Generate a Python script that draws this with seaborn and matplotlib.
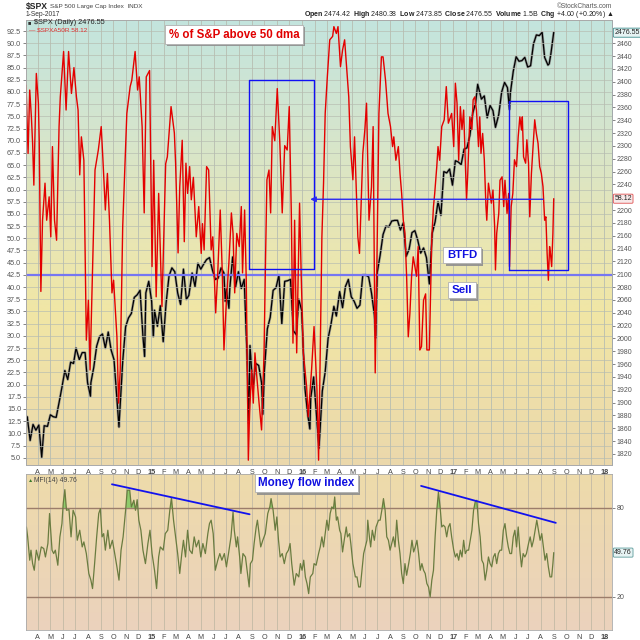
import matplotlib
matplotlib.use("Agg")
import matplotlib.pyplot as plt
import matplotlib.transforms as mtransforms
import matplotlib.patheffects as pe
from matplotlib.colors import LinearSegmentedColormap
import numpy as np
import pandas as pd
import seaborn as sns

# S&P 500 closes (right axis)
spx_dates = [
    '2014-03-04', '2014-03-07', '2014-03-14', '2014-03-21', '2014-03-28', '2014-04-04', '2014-04-11',
    '2014-04-17', '2014-04-25', '2014-05-02', '2014-05-09', '2014-05-16', '2014-05-23', '2014-05-30',
    '2014-06-06', '2014-06-13', '2014-06-20', '2014-06-27', '2014-07-03', '2014-07-11', '2014-07-18',
    '2014-07-25', '2014-07-31', '2014-08-07', '2014-08-08', '2014-08-15', '2014-08-22', '2014-08-29',
    '2014-09-05', '2014-09-12', '2014-09-19', '2014-09-26', '2014-10-03', '2014-10-10', '2014-10-15',
    '2014-10-17', '2014-10-24', '2014-10-31', '2014-11-07', '2014-11-14', '2014-11-21', '2014-11-28',
    '2014-12-05', '2014-12-12', '2014-12-16', '2014-12-19', '2014-12-26', '2015-01-02', '2015-01-06',
    '2015-01-09', '2015-01-16', '2015-01-23', '2015-01-30', '2015-02-06', '2015-02-13', '2015-02-20',
    '2015-02-27', '2015-03-06', '2015-03-13', '2015-03-20', '2015-03-27', '2015-04-02', '2015-04-10',
    '2015-04-17', '2015-04-24', '2015-05-01', '2015-05-08', '2015-05-15', '2015-05-22', '2015-05-29',
    '2015-06-05', '2015-06-12', '2015-06-19', '2015-06-26', '2015-06-29', '2015-07-02', '2015-07-08',
    '2015-07-10', '2015-07-17', '2015-07-24', '2015-07-31', '2015-08-07', '2015-08-14', '2015-08-21',
    '2015-08-25', '2015-08-28', '2015-09-04', '2015-09-11', '2015-09-18', '2015-09-25', '2015-09-28',
    '2015-10-02', '2015-10-09', '2015-10-16', '2015-10-23', '2015-10-30', '2015-11-06', '2015-11-13',
    '2015-11-20', '2015-11-27', '2015-12-04', '2015-12-11', '2015-12-18', '2015-12-24', '2015-12-31',
    '2016-01-08', '2016-01-15', '2016-01-20', '2016-01-22', '2016-01-29', '2016-02-05', '2016-02-11',
    '2016-02-19', '2016-02-26', '2016-03-04', '2016-03-11', '2016-03-18', '2016-03-24', '2016-04-01',
    '2016-04-08', '2016-04-15', '2016-04-22', '2016-04-29', '2016-05-06', '2016-05-13', '2016-05-20',
    '2016-05-27', '2016-06-03', '2016-06-10', '2016-06-17', '2016-06-24', '2016-06-27', '2016-07-01',
    '2016-07-08', '2016-07-15', '2016-07-22', '2016-07-29', '2016-08-05', '2016-08-12', '2016-08-19',
    '2016-08-26', '2016-09-02', '2016-09-09', '2016-09-16', '2016-09-23', '2016-09-30', '2016-10-07',
    '2016-10-14', '2016-10-21', '2016-10-28', '2016-11-04', '2016-11-11', '2016-11-18', '2016-11-25',
    '2016-12-02', '2016-12-09', '2016-12-16', '2016-12-23', '2016-12-30', '2017-01-06', '2017-01-13',
    '2017-01-20', '2017-01-27', '2017-02-03', '2017-02-10', '2017-02-17', '2017-02-24', '2017-03-01',
    '2017-03-10', '2017-03-17', '2017-03-24', '2017-03-31', '2017-04-07', '2017-04-13', '2017-04-21',
    '2017-04-28', '2017-05-05', '2017-05-12', '2017-05-17', '2017-05-19', '2017-05-26', '2017-06-02',
    '2017-06-09', '2017-06-16', '2017-06-23', '2017-06-30', '2017-07-07', '2017-07-14', '2017-07-21',
    '2017-07-28', '2017-08-04', '2017-08-10', '2017-08-18', '2017-08-21', '2017-08-25', '2017-09-01']
spx_close = [
    1873, 1878, 1841, 1866, 1857, 1865, 1815, 1864, 1863, 1881, 1878, 1877, 1900, 1924,
    1950, 1936, 1963, 1961, 1985, 1967, 1978, 1978, 1931, 1910, 1931, 1955, 1988, 2003,
    2007, 1985, 2010, 1982, 1967, 1906, 1862, 1886, 1964, 2018, 2032, 2039, 2064, 2068,
    2075, 2003, 1972, 2071, 2089, 2058, 2003, 2044, 2019, 2051, 1995, 2055, 2097, 2110,
    2104, 2071, 2053, 2108, 2061, 2067, 2102, 2081, 2117, 2108, 2116, 2123, 2126, 2107,
    2092, 2094, 2110, 2102, 2058, 2077, 2047, 2077, 2127, 2080, 2104, 2078, 2092, 1971,
    1868, 1989, 1921, 1961, 1958, 1931, 1882, 1951, 2015, 2033, 2075, 2079, 2099, 2023,
    2089, 2090, 2092, 2012, 2006, 2061, 2044, 1922, 1880, 1859, 1907, 1940, 1880, 1829,
    1918, 1948, 2000, 2022, 2050, 2035, 2073, 2048, 2081, 2092, 2065, 2058, 2047, 2052,
    2099, 2099, 2096, 2071, 2037, 2001, 2103, 2130, 2162, 2175, 2174, 2183, 2184, 2184,
    2169, 2180, 2128, 2139, 2165, 2168, 2153, 2133, 2141, 2126, 2085, 2164, 2182, 2213,
    2192, 2260, 2258, 2264, 2239, 2277, 2275, 2271, 2295, 2297, 2316, 2351, 2367, 2396,
    2373, 2378, 2344, 2363, 2355, 2329, 2349, 2384, 2399, 2391, 2357, 2382, 2416, 2439,
    2432, 2433, 2438, 2423, 2425, 2459, 2473, 2472, 2477, 2438, 2426, 2428, 2443, 2477]

# % of S&P stocks above their 50 dma (left axis)
a50_dates = [
    '2014-03-04', '2014-03-09', '2014-03-13', '2014-03-17', '2014-03-20', '2014-03-23', '2014-03-29',
    '2014-04-03', '2014-04-05', '2014-04-09', '2014-04-13', '2014-04-19', '2014-04-23', '2014-04-29',
    '2014-05-03', '2014-05-07', '2014-05-12', '2014-05-17', '2014-05-23', '2014-05-26', '2014-06-03',
    '2014-06-09', '2014-06-15', '2014-06-22', '2014-06-28', '2014-07-04', '2014-07-08', '2014-07-12',
    '2014-07-16', '2014-07-22', '2014-07-28', '2014-08-02', '2014-08-06', '2014-08-13', '2014-08-18',
    '2014-08-26', '2014-09-02', '2014-09-06', '2014-09-12', '2014-09-17', '2014-09-22', '2014-09-28',
    '2014-10-02', '2014-10-10', '2014-10-14', '2014-10-18', '2014-10-24', '2014-10-30', '2014-11-03',
    '2014-11-11', '2014-11-15', '2014-11-23', '2014-11-29', '2014-12-03', '2014-12-10', '2014-12-15',
    '2014-12-20', '2014-12-28', '2015-01-03', '2015-01-07', '2015-01-13', '2015-01-19', '2015-01-27',
    '2015-02-05', '2015-02-09', '2015-02-18', '2015-02-26', '2015-03-01', '2015-03-07', '2015-03-11',
    '2015-03-17', '2015-03-22', '2015-03-26', '2015-03-30', '2015-04-04', '2015-04-08', '2015-04-13',
    '2015-04-20', '2015-04-26', '2015-05-02', '2015-05-05', '2015-05-09', '2015-05-15', '2015-05-20',
    '2015-05-26', '2015-05-30', '2015-06-06', '2015-06-11', '2015-06-17', '2015-06-22', '2015-06-26',
    '2015-07-02', '2015-07-08', '2015-07-14', '2015-07-18', '2015-07-22', '2015-07-27', '2015-08-02',
    '2015-08-07', '2015-08-10', '2015-08-15', '2015-08-19', '2015-08-24', '2015-08-27', '2015-09-01',
    '2015-09-05', '2015-09-09', '2015-09-14', '2015-09-19', '2015-09-25', '2015-10-01', '2015-10-05',
    '2015-10-08', '2015-10-13', '2015-10-17', '2015-10-21', '2015-10-27', '2015-11-02', '2015-11-08',
    '2015-11-14', '2015-11-20', '2015-11-26', '2015-12-01', '2015-12-06', '2015-12-10', '2015-12-14',
    '2015-12-19', '2015-12-26', '2015-12-30', '2016-01-04', '2016-01-12', '2016-01-16', '2016-01-24',
    '2016-01-30', '2016-02-06', '2016-02-10', '2016-02-14', '2016-02-18', '2016-02-22', '2016-02-26',
    '2016-03-02', '2016-03-08', '2016-03-15', '2016-03-18', '2016-03-24', '2016-03-28', '2016-04-03',
    '2016-04-08', '2016-04-13', '2016-04-17', '2016-04-23', '2016-04-27', '2016-05-03', '2016-05-07',
    '2016-05-11', '2016-05-15', '2016-05-19', '2016-05-27', '2016-06-01', '2016-06-05', '2016-06-11',
    '2016-06-17', '2016-06-21', '2016-06-26', '2016-07-01', '2016-07-05', '2016-07-11', '2016-07-15',
    '2016-07-21', '2016-07-27', '2016-08-02', '2016-08-07', '2016-08-10', '2016-08-15', '2016-08-21',
    '2016-08-25', '2016-08-29', '2016-09-02', '2016-09-06', '2016-09-10', '2016-09-14', '2016-09-18',
    '2016-09-22', '2016-09-26', '2016-09-30', '2016-10-04', '2016-10-08', '2016-10-12', '2016-10-16',
    '2016-10-21', '2016-10-26', '2016-10-29', '2016-11-04', '2016-11-10', '2016-11-14', '2016-11-17',
    '2016-11-22', '2016-11-25', '2016-11-29', '2016-12-04', '2016-12-10', '2016-12-15', '2016-12-20',
    '2016-12-28', '2017-01-02', '2017-01-06', '2017-01-10', '2017-01-14', '2017-01-18', '2017-01-22',
    '2017-01-26', '2017-02-02', '2017-02-05', '2017-02-10', '2017-02-15', '2017-02-18', '2017-02-22',
    '2017-02-26', '2017-03-03', '2017-03-06', '2017-03-09', '2017-03-13', '2017-03-17', '2017-03-21',
    '2017-03-23', '2017-03-27', '2017-04-03', '2017-04-07', '2017-04-11', '2017-04-13', '2017-04-16',
    '2017-04-21', '2017-04-24', '2017-04-29', '2017-05-03', '2017-05-06', '2017-05-11', '2017-05-15',
    '2017-05-17', '2017-05-21', '2017-05-25', '2017-05-29', '2017-06-03', '2017-06-07', '2017-06-11',
    '2017-06-15', '2017-06-17', '2017-06-20', '2017-06-25', '2017-06-28', '2017-07-02', '2017-07-05',
    '2017-07-09', '2017-07-13', '2017-07-17', '2017-07-21', '2017-07-25', '2017-07-29', '2017-08-02',
    '2017-08-06', '2017-08-10', '2017-08-13', '2017-08-16', '2017-08-19', '2017-08-22', '2017-08-24',
    '2017-08-27', '2017-08-30', '2017-09-01']
a50_pct = [
    81.4, 67.4, 80.4, 74.9, 69.5, 60.9, 83.8, 77.7, 70.0, 39.1, 53.7, 61.3, 53.7, 58.5,
    50.3, 68.8, 53.7, 49.6, 72.9, 79.0, 88.3, 76.3, 88.3, 79.7, 85.0, 79.0, 76.3, 63.0,
    70.8, 66.0, 29.1, 37.3, 23.0, 47.0, 64.0, 68.1, 72.9, 66.4, 55.8, 63.3, 53.7, 38.8,
    41.4, 29.8, 16.2, 23.0, 52.4, 66.4, 75.6, 81.1, 82.4, 88.3, 80.4, 83.1, 72.9, 55.2,
    83.1, 84.4, 44.2, 66.0, 38.0, 59.2, 36.0, 65.3, 66.7, 77.0, 71.6, 65.4, 47.0, 60.5,
    70.1, 49.3, 65.4, 59.2, 64.7, 57.9, 62.5, 50.3, 56.5, 46.9, 53.0, 47.6, 64.7, 64.0,
    47.6, 50.3, 34.7, 42.9, 55.8, 42.9, 27.1, 37.3, 45.0, 55.2, 51.0, 38.8, 51.0, 48.3,
    56.5, 42.9, 55.8, 41.4, 4.5, 14.2, 23.0, 16.2, 26.5, 21.1, 16.2, 10.7, 26.5, 47.6,
    62.0, 64.0, 55.2, 72.9, 70.0, 80.7, 70.0, 55.2, 69.0, 68.1, 77.0, 55.2, 28.5, 53.7,
    26.5, 57.2, 42.2, 26.5, 19.6, 13.4, 23.0, 31.9, 19.0, 4.5, 26.5, 50.3, 61.3, 75.6,
    82.9, 90.7, 91.4, 93.4, 92.0, 93.4, 85.2, 88.6, 90.7, 85.9, 79.0, 68.8, 62.0, 70.8,
    60.5, 50.3, 46.9, 67.4, 72.3, 77.7, 53.7, 60.5, 72.9, 22.4, 50.3, 75.6, 87.2, 87.2,
    82.4, 75.6, 72.9, 68.8, 70.8, 66.0, 68.8, 63.3, 59.2, 53.7, 51.0, 42.2, 29.8, 34.7,
    42.2, 46.2, 44.2, 42.2, 48.3, 27.1, 27.8, 37.3, 38.6, 27.1, 27.1, 50.3, 56.5, 59.2,
    64.7, 68.8, 66.0, 72.9, 74.3, 81.1, 73.6, 75.6, 68.8, 81.8, 77.7, 66.0, 77.0, 72.3,
    76.3, 57.9, 63.3, 74.9, 72.3, 78.4, 79.0, 76.3, 68.8, 74.9, 67.4, 71.5, 66.1, 56.5,
    53.7, 61.3, 57.2, 59.9, 52.4, 43.5, 51.0, 55.1, 61.9, 62.6, 56.5, 61.9, 55.1, 59.2,
    44.2, 56.5, 59.2, 66.1, 64.7, 70.8, 74.9, 72.2, 74.9, 66.7, 65.4, 70.2, 65.4, 54.4,
    63.3, 68.8, 74.3, 71.5, 69.5, 64.7, 63.3, 60.6, 53.7, 54.4, 46.9, 41.4, 48.3, 46.9,
    44.2, 51.0, 58.12]

# Money flow index (14)
mfi_dates = [
    '2014-03-05', '2014-03-08', '2014-03-13', '2014-03-16', '2014-03-20', '2014-03-24', '2014-03-29',
    '2014-04-04', '2014-04-10', '2014-04-16', '2014-04-20', '2014-04-26', '2014-04-30', '2014-05-06',
    '2014-05-10', '2014-05-14', '2014-05-20', '2014-05-25', '2014-05-30', '2014-06-02', '2014-06-06',
    '2014-06-10', '2014-06-16', '2014-06-21', '2014-06-26', '2014-07-02', '2014-07-06', '2014-07-12',
    '2014-07-18', '2014-07-22', '2014-07-28', '2014-08-03', '2014-08-08', '2014-08-12', '2014-08-17',
    '2014-08-22', '2014-08-27', '2014-08-31', '2014-09-04', '2014-09-08', '2014-09-12', '2014-09-18',
    '2014-09-23', '2014-09-29', '2014-10-04', '2014-10-10', '2014-10-15', '2014-10-20', '2014-10-25',
    '2014-10-31', '2014-11-04', '2014-11-10', '2014-11-14', '2014-11-20', '2014-11-24', '2014-11-28',
    '2014-12-02', '2014-12-07', '2014-12-12', '2014-12-18', '2014-12-24', '2014-12-29', '2015-01-03',
    '2015-01-09', '2015-01-14', '2015-01-19', '2015-01-23', '2015-01-30', '2015-02-04', '2015-02-10',
    '2015-02-15', '2015-02-19', '2015-02-24', '2015-03-01', '2015-03-06', '2015-03-11', '2015-03-16',
    '2015-03-20', '2015-03-25', '2015-03-30', '2015-04-04', '2015-04-10', '2015-04-15', '2015-04-20',
    '2015-04-26', '2015-05-01', '2015-05-06', '2015-05-12', '2015-05-18', '2015-05-22', '2015-05-26',
    '2015-05-31', '2015-06-05', '2015-06-11', '2015-06-16', '2015-06-21', '2015-06-27', '2015-07-02',
    '2015-07-07', '2015-07-13', '2015-07-18', '2015-07-21', '2015-07-26', '2015-07-29', '2015-08-03',
    '2015-08-06', '2015-08-11', '2015-08-17', '2015-08-21', '2015-08-26', '2015-08-29', '2015-09-03',
    '2015-09-07', '2015-09-12', '2015-09-15', '2015-09-20', '2015-09-23', '2015-09-28', '2015-10-04',
    '2015-10-10', '2015-10-15', '2015-10-18', '2015-10-23', '2015-10-28', '2015-11-01', '2015-11-05',
    '2015-11-09', '2015-11-14', '2015-11-19', '2015-11-24', '2015-11-29', '2015-12-03', '2015-12-07',
    '2015-12-13', '2015-12-18', '2015-12-24', '2015-12-28', '2016-01-01', '2016-01-05', '2016-01-09',
    '2016-01-13', '2016-01-17', '2016-01-21', '2016-01-27', '2016-01-30', '2016-02-04', '2016-02-10',
    '2016-02-14', '2016-02-18', '2016-02-22', '2016-02-26', '2016-03-01', '2016-03-05', '2016-03-09',
    '2016-03-13', '2016-03-17', '2016-03-20', '2016-03-24', '2016-03-27', '2016-04-01', '2016-04-04',
    '2016-04-08', '2016-04-12', '2016-04-17', '2016-04-20', '2016-04-25', '2016-04-28', '2016-05-03',
    '2016-05-09', '2016-05-13', '2016-05-17', '2016-05-21', '2016-05-25', '2016-05-29', '2016-06-02',
    '2016-06-06', '2016-06-08', '2016-06-12', '2016-06-15', '2016-06-19', '2016-06-24', '2016-06-28',
    '2016-07-04', '2016-07-08', '2016-07-12', '2016-07-16', '2016-07-20', '2016-07-24', '2016-07-28',
    '2016-08-01', '2016-08-05', '2016-08-09', '2016-08-13', '2016-08-17', '2016-08-21', '2016-08-25',
    '2016-08-29', '2016-09-02', '2016-09-06', '2016-09-10', '2016-09-15', '2016-09-19', '2016-09-23',
    '2016-09-27', '2016-10-01', '2016-10-05', '2016-10-09', '2016-10-13', '2016-10-17', '2016-10-21',
    '2016-10-25', '2016-10-29', '2016-11-02', '2016-11-06', '2016-11-10', '2016-11-14', '2016-11-18',
    '2016-11-22', '2016-11-26', '2016-11-30', '2016-12-04', '2016-12-08', '2016-12-12', '2016-12-16',
    '2016-12-20', '2016-12-24', '2016-12-28', '2017-01-02', '2017-01-06', '2017-01-10', '2017-01-14',
    '2017-01-18', '2017-01-22', '2017-01-26', '2017-01-30', '2017-02-03', '2017-02-07', '2017-02-11',
    '2017-02-15', '2017-02-19', '2017-02-23', '2017-02-27', '2017-03-03', '2017-03-07', '2017-03-11',
    '2017-03-15', '2017-03-19', '2017-03-23', '2017-03-27', '2017-03-31', '2017-04-04', '2017-04-08',
    '2017-04-12', '2017-04-16', '2017-04-20', '2017-04-24', '2017-04-28', '2017-05-02', '2017-05-06',
    '2017-05-10', '2017-05-14', '2017-05-18', '2017-05-22', '2017-05-26', '2017-05-30', '2017-06-03',
    '2017-06-07', '2017-06-11', '2017-06-15', '2017-06-19', '2017-06-23', '2017-06-27', '2017-07-02',
    '2017-07-06', '2017-07-10', '2017-07-14', '2017-07-18', '2017-07-22', '2017-07-26', '2017-07-30',
    '2017-08-03', '2017-08-07', '2017-08-11', '2017-08-15', '2017-08-19', '2017-08-23', '2017-08-27',
    '2017-08-30', '2017-09-01']
mfi_vals = [
    67.1, 60.4, 44.6, 51.4, 42.3, 37.8, 51.4, 44.6, 53.6, 52.5, 46.8, 55.9, 76.2, 51.4,
    49.1, 51.4, 41.2, 60.4, 69.4, 82.9, 92.4, 78.4, 78.9, 60.4, 78.4, 73.9, 58.1, 64.9,
    53.6, 57.0, 49.1, 35.6, 31.1, 25.4, 42.3, 60.4, 76.2, 79.5, 60.4, 62.6, 51.4, 64.9,
    52.5, 58.1, 50.2, 40.1, 31.1, 51.4, 60.4, 78.4, 92.0, 92.0, 80.7, 85.2, 78.4, 85.6,
    71.7, 64.9, 51.4, 42.3, 55.9, 64.9, 49.1, 37.8, 25.4, 46.8, 53.6, 51.4, 62.6, 64.9,
    78.4, 87.0, 71.7, 60.4, 49.1, 35.6, 49.1, 58.1, 46.8, 64.9, 51.4, 49.1, 60.4, 53.6,
    58.1, 46.8, 55.9, 49.1, 62.6, 69.4, 71.7, 62.6, 37.8, 44.6, 49.1, 44.6, 49.1, 40.1,
    49.1, 60.4, 77.3, 64.9, 53.6, 60.4, 46.8, 35.6, 49.1, 46.8, 37.8, 26.5, 42.3, 44.6,
    55.9, 67.1, 71.7, 60.4, 53.6, 58.1, 62.6, 76.2, 80.7, 86.3, 78.4, 64.9, 73.9, 58.1,
    46.8, 49.1, 42.3, 49.1, 51.4, 55.9, 42.3, 27.7, 35.6, 33.3, 42.3, 37.8, 44.6, 33.3,
    28.8, 22.0, 33.3, 35.6, 42.3, 41.2, 49.1, 53.6, 60.4, 53.6, 62.6, 71.7, 64.9, 76.2,
    80.7, 79.5, 87.4, 71.7, 73.9, 64.9, 62.6, 50.2, 58.1, 67.1, 60.4, 62.6, 55.9, 42.3,
    33.3, 33.3, 26.5, 26.5, 37.8, 49.1, 53.6, 58.1, 71.7, 60.4, 53.6, 64.9, 58.1, 67.1,
    71.7, 71.7, 78.4, 86.3, 78.4, 60.4, 58.1, 51.4, 55.9, 60.4, 53.6, 71.7, 58.1, 49.1,
    35.6, 28.8, 42.3, 34.4, 42.3, 49.1, 58.1, 50.2, 53.6, 58.1, 49.1, 37.8, 42.3, 37.8,
    35.6, 28.8, 26.5, 19.8, 31.1, 37.8, 60.4, 78.4, 90.8, 80.7, 67.1, 68.3, 67.1, 60.4,
    67.1, 69.4, 60.4, 51.4, 46.8, 49.1, 44.6, 51.4, 46.8, 58.1, 49.1, 51.4, 51.4, 58.1,
    64.9, 78.4, 84.1, 85.2, 69.4, 60.4, 44.6, 42.3, 31.1, 37.8, 46.8, 42.3, 40.1, 46.8,
    49.1, 42.3, 49.1, 51.4, 51.4, 64.9, 69.4, 60.4, 53.6, 49.1, 49.1, 60.4, 64.9, 53.6,
    67.1, 51.4, 40.1, 49.1, 46.8, 49.1, 55.9, 60.4, 53.6, 58.1, 64.9, 71.7, 64.9, 58.1,
    62.6, 53.6, 44.6, 49.1, 40.1, 33.3, 33.3, 42.3, 49.76]

# hand-drawn annotations (percentage scale / MFI scale)
btfd_level = 42.5
box_2015_dates = ['2015-08-26', '2016-01-31']
box_2015_range = [43.6, 82.5]
box_2017_dates = ['2017-05-15', '2017-10-06']
box_2017_range = [43.5, 78.1]
arrow_dates = ['2017-08-13', '2016-01-14']
arrow_level = 58.0
mfi_trend_a_dates = ['2014-09-28', '2015-08-27']
mfi_trend_a_vals = [96.0, 75.7]
mfi_trend_b_dates = ['2016-10-15', '2017-09-06']
mfi_trend_b_vals = [94.9, 69.9]

x_start, x_end = pd.Timestamp('2014-03-04'), pd.Timestamp('2018-01-20')
month_starts = pd.date_range('2014-04-01', '2018-01-01', freq='MS')
month_labels = [d.strftime('%y') if d.month == 1 else d.strftime('%b')[0] for d in month_starts]

spx = pd.DataFrame({'date': pd.to_datetime(spx_dates), 'close': spx_close})
a50 = pd.DataFrame({'date': pd.to_datetime(a50_dates), 'pct': a50_pct})
mfi = pd.DataFrame({'date': pd.to_datetime(mfi_dates), 'mfi': mfi_vals})

sns.set_style('white')
plt.rcParams['font.family'] = ['Liberation Sans', 'DejaVu Sans']
plt.rcParams['mathtext.fontset'] = 'custom'
plt.rcParams['mathtext.rm'] = 'Liberation Sans'
plt.rcParams['mathtext.bf'] = 'Liberation Sans:bold'

W = 640.0
fig = plt.figure(figsize=(6.4, 6.4), dpi=100, facecolor='white')


def px(x, y):
    return x / W, 1 - y / W


main_rect = [26 / W, 1 - 465 / W, 586 / W, 445 / W]
mfi_rect = [26 / W, 1 - 629.5 / W, 586 / W, 156 / W]

grad = np.linspace(0, 1, 256).reshape(-1, 1)
cmap_main = LinearSegmentedColormap.from_list(
    'main', [(0, '#c3e4de'), (0.25, '#d5e5cd'), (0.5, '#e9e6b3'), (0.66, '#f1e6a5'), (1, '#ebd8ac')])
cmap_mfi = LinearSegmentedColormap.from_list('mfi', ['#eedbaa', '#ebd2bd'])

bg = fig.add_axes(main_rect, zorder=0)
bg.imshow(grad, aspect='auto', cmap=cmap_main, extent=[0, 1, 0, 1])
bg.axis('off')
bgm = fig.add_axes(mfi_rect, zorder=0)
bgm.imshow(grad, aspect='auto', cmap=cmap_mfi, extent=[0, 1, 0, 1])
bgm.axis('off')

# ---- price panel ----
ax = fig.add_axes(main_rect, zorder=1)
ax.patch.set_visible(False)
sns.lineplot(data=spx, x='date', y='close', ax=ax, color='#8c8c8c', lw=1.9, alpha=0.8, legend=False)
sns.lineplot(data=spx, x='date', y='close', ax=ax, color='black', lw=0.9, legend=False)

axp = ax.twinx()
axp.set_zorder(2)
ax.yaxis.tick_right()
axp.yaxis.tick_left()
sns.lineplot(data=a50, x='date', y='pct', ax=axp, color='#e40000', lw=1.0, legend=False)

axp.axhline(btfd_level, color='#7676f2', lw=1.6, zorder=1)
for dts, rng in [(box_2015_dates, box_2015_range), (box_2017_dates, box_2017_range)]:
    d0, d1 = pd.to_datetime(dts)
    axp.plot([d0, d0, d1, d1, d0], [rng[0], rng[1], rng[1], rng[0], rng[0]], color='#1010f5', lw=1.0)
a0, a1 = pd.to_datetime(arrow_dates)
axp.annotate('', xy=(a1, arrow_level), xytext=(a0, arrow_level),
             arrowprops=dict(arrowstyle='-|>', color='#2a2af2', lw=1.0, mutation_scale=8))

ax.set_xlim(x_start, x_end)
ax.set_ylim(1802.8, 2496.3)
axp.set_ylim(3.51, 94.76)
ax.set_yticks(np.arange(1820, 2461, 20))
ax.set_yticklabels([str(v) for v in np.arange(1820, 2461, 20)])
pct_ticks = np.arange(5, 92.6, 2.5)
axp.set_yticks(pct_ticks)
axp.set_yticklabels([f'{v:.1f}' for v in pct_ticks])

ax.set_xticks(month_starts)
ax.set_xticklabels(month_labels)
ax.grid(axis='x', color='#b7bdb1', lw=0.6)
axp.grid(axis='y', color='#b7bdb1', lw=0.6, alpha=0.8)
axp.set_axisbelow(True)
for a in (ax, axp):
    a.set_xlabel('')
    a.set_ylabel('')
    for s in a.spines.values():
        s.set_color('#a9a9a9')
        s.set_linewidth(0.6)
ax.spines['right'].set_linestyle((0, (1, 1)))
ax.spines['right'].set_color('#6fa0b0')
ax.tick_params(axis='y', labelsize=5, colors='#555555', length=2, width=0.5, pad=1.5)
axp.tick_params(axis='y', labelsize=5.2, colors='#555555', length=2, width=0.5, pad=1.5)
ax.tick_params(axis='x', labelsize=5.2, colors='#444444', length=2, width=0.5, pad=1)

# ---- MFI panel ----
axm = fig.add_axes(mfi_rect, zorder=1)
axm.patch.set_visible(False)
axm.axhline(80, color='#9c7d6b', lw=1.0)
axm.axhline(20, color='#9c7d6b', lw=1.0)
axm.fill_between(mfi['date'], mfi['mfi'], 80, where=mfi['mfi'] > 80, interpolate=True,
                 color='#8fcb6b', lw=0)
sns.lineplot(data=mfi, x='date', y='mfi', ax=axm, color='#6a7c40', lw=0.9, legend=False)
for dts, vals in [(mfi_trend_a_dates, mfi_trend_a_vals), (mfi_trend_b_dates, mfi_trend_b_vals)]:
    axm.plot(pd.to_datetime(dts), vals, color='#1212ee', lw=1.3)
axm.set_xlim(x_start, x_end)
axm.set_ylim(-2.3, 103.3)
axm.yaxis.tick_right()
axm.set_yticks([20, 80])
axm.set_yticklabels(['20', '80'])
axm.set_xticks(month_starts)
axm.set_xticklabels(month_labels)
axm.grid(axis='x', color='#c3b9a5', lw=0.6)
axm.set_xlabel('')
axm.set_ylabel('')
for s in axm.spines.values():
    s.set_color('#a9a9a9')
    s.set_linewidth(0.6)
axm.tick_params(axis='y', labelsize=5, colors='#555555', length=2, width=0.5, pad=1.5)
axm.tick_params(axis='x', labelsize=5.2, colors='#444444', length=2, width=0.5, pad=1)

for a in (ax, axm):
    for lab in a.get_xticklabels():
        if lab.get_text().isdigit():
            lab.set_fontweight('bold')

# value flags on the right axis
ax.text(1.004, 2476.55, '2476.55', transform=mtransforms.blended_transform_factory(ax.transAxes, ax.transData),
        fontsize=5, va='center', ha='left', color='#222222',
        bbox=dict(boxstyle='round,pad=0.15', fc='#e6f3f3', ec='#3c8c8c', lw=0.6))
axp.text(1.004, 58.12, '58.12', transform=mtransforms.blended_transform_factory(axp.transAxes, axp.transData),
         fontsize=5, va='center', ha='left', color='#222222',
         bbox=dict(boxstyle='round,pad=0.15', fc='#f7e9e9', ec='#e05050', lw=0.6))
axm.text(1.004, 49.76, '49.76', transform=mtransforms.blended_transform_factory(axm.transAxes, axm.transData),
         fontsize=5, va='center', ha='left', color='#222222',
         bbox=dict(boxstyle='round,pad=0.15', fc='#e6f3f3', ec='#5a9a9a', lw=0.6))

# header
fig.text(*px(26, 6), '$SPX', fontsize=6.2, fontweight='bold', va='center')
fig.text(*px(50, 6.5), 'S&P 500 Large Cap Index  INDX', fontsize=4.6, color='#444444', va='center')
fig.text(*px(26, 14.5), '1-Sep-2017', fontsize=4.8, color='#333333', va='center')
fig.text(*px(612, 6), '\u00a9StockCharts.com', fontsize=4.8, color='#555555', va='center', ha='right')
fig.text(*px(614, 14.5),
         r'$\bf{Open}$ 2474.42  $\bf{High}$ 2480.38  $\bf{Low}$ 2473.85  $\bf{Close}$ 2476.55  '
         r'$\bf{Volume}$ 1.5B  $\bf{Chg}$ +4.00 (+0.20%) ▲',
         fontsize=5, color='#222222', va='center', ha='right')

# in-panel legends
fig.text(*px(28, 23), '\u25a0', fontsize=4, color='#333333', va='center')
fig.text(*px(34, 23), '$SPX (Daily) 2476.55', fontsize=5.3, color='#222222', va='center')
fig.text(*px(29, 29.5), '\u2014 $SPXA50R 58.12', fontsize=4.6, color='#e03030', va='center')
fig.text(*px(28, 480), '\u25b2', fontsize=3.8, color='#3a7a2a', va='center')
fig.text(*px(34, 480), 'MFI(14) 49.76', fontsize=4.9, color='#444444', va='center')


def boxed(x, y, s, color, size):
    t = fig.text(*px(x, y), s, fontsize=size, fontweight='bold', color=color, ha='center', va='center',
                 bbox=dict(boxstyle='square,pad=0.3', fc='white', ec='#b0b0b0', lw=0.6))
    t.get_bbox_patch().set_path_effects(
        [pe.SimplePatchShadow(offset=(1.6, -1.6), shadow_rgbFace='#8f8f8f', alpha=0.9), pe.Normal()])


boxed(234, 34.5, '% of S&P above 50 dma', '#e00000', 8.3)
boxed(462, 255, 'BTFD', '#1010e0', 8.2)
boxed(462, 290, 'Sell', '#1010e0', 8.2)
boxed(306.5, 483, 'Money flow index', '#1010e0', 8.3)

fig.savefig('out.png', dpi=100, facecolor='white')
